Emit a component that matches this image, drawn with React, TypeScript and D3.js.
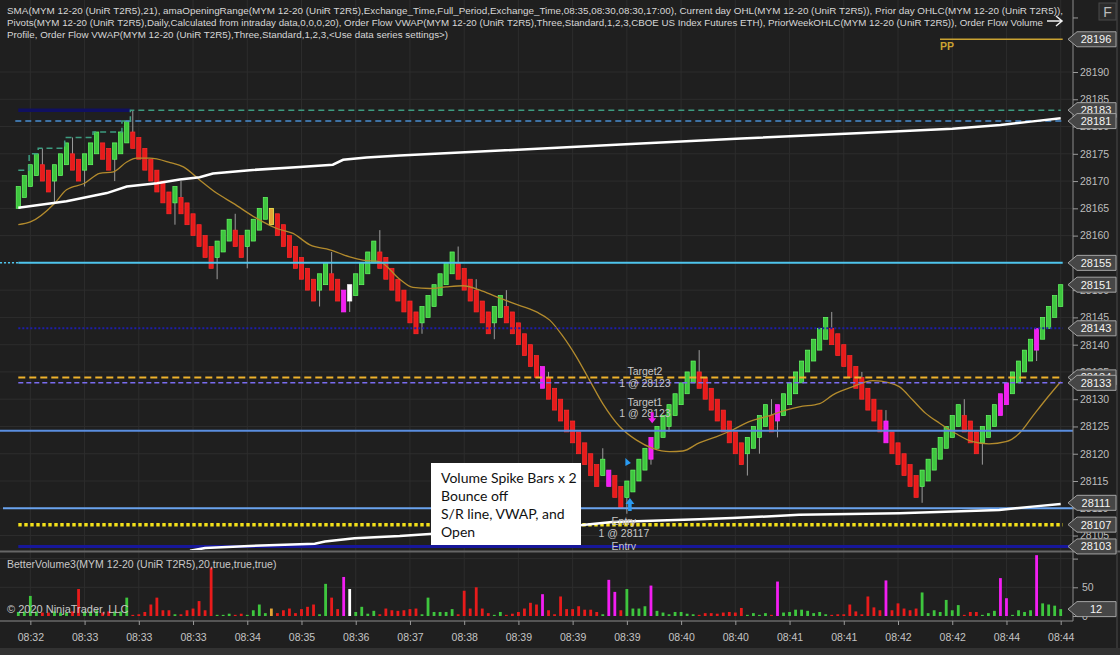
import * as d3 from "d3";
import { useEffect, useRef } from "react";

// UniRenko closes, one per bar (MYM 12-20, T2R5)
const closes = [
  28169, 28171, 28173, 28175, 28170, 28168, 28173, 28175, 28177, 28172,
  28170, 28175, 28177, 28179, 28174, 28172, 28177, 28179, 28181, 28176,
  28174, 28172, 28170, 28168, 28166, 28164, 28169, 28164, 28162, 28160,
  28158, 28156, 28154, 28159, 28161, 28163, 28158, 28156, 28161, 28163,
  28165, 28167, 28162, 28160, 28158, 28156, 28154, 28152, 28150, 28148,
  28153, 28155, 28150, 28148, 28146, 28151, 28153, 28155, 28157, 28159,
  28154, 28152, 28150, 28148, 28146, 28144, 28142, 28147, 28149, 28151,
  28153, 28155, 28157, 28152, 28150, 28148, 28146, 28144, 28142, 28147,
  28149, 28144, 28142, 28140, 28138, 28136, 28134, 28132, 28130, 28128,
  28126, 28124, 28122, 28120, 28118, 28116, 28114, 28119, 28114, 28112,
  28110, 28115, 28117, 28119, 28121, 28123, 28125, 28127, 28129, 28131,
  28133, 28135, 28137, 28132, 28130, 28128, 28126, 28124, 28122, 28120,
  28118, 28123, 28125, 28127, 28129, 28124, 28129, 28131, 28133, 28135,
  28137, 28139, 28141, 28143, 28145, 28140, 28138, 28136, 28134, 28132,
  28130, 28128, 28126, 28124, 28122, 28120, 28118, 28116, 28114, 28112,
  28117, 28119, 28121, 28123, 28125, 28127, 28129, 28124, 28122, 28120,
  28125, 28127, 28129, 28131, 28133, 28135, 28137, 28139, 28141, 28143,
  28145, 28147, 28149, 28151,
];

const volumes = [
  7, 8, 35, 8, 6, 6, 8, 6, 6, 8,
  47, 8, 8, 10, 6, 8, 8, 8, 32, 2,
  3, 7, 20, 32, 10, 10, 3, 3, 10, 13,
  26, 10, 84, 2, 2, 4, 2, 4, 2, 10,
  20, 5, 13, 5, 10, 13, 5, 12, 16, 20,
  3, 56, 32, 12, 68, 47, 7, 16, 4, 9,
  3, 13, 10, 9, 10, 12, 13, 3, 32, 7,
  7, 7, 12, 3, 44, 13, 50, 13, 5, 2,
  7, 2, 4, 7, 13, 23, 20, 38, 10, 3,
  34, 12, 12, 17, 11, 11, 7, 3, 63, 42,
  10, 47, 13, 13, 17, 53, 9, 6, 3, 7,
  7, 4, 3, 2, 5, 5, 4, 6, 7, 6,
  14, 2, 5, 2, 5, 2, 60, 6, 7, 11,
  11, 9, 5, 7, 3, 2, 3, 3, 20, 8,
  3, 34, 15, 10, 62, 10, 22, 13, 10, 13,
  41, 5, 10, 7, 28, 10, 19, 2, 7, 7,
  2, 5, 9, 66, 31, 2, 10, 7, 10, 106,
  22, 20, 18, 12,
];

const magentaBars = [54, 87, 98, 105, 126, 144, 163, 164, 169];
const whiteBars = [55];
const orangeBars = [42];
const magentaVolumeOnly = [99];

const wickIdx = [4, 6, 9, 11, 16, 19, 26, 27, 33, 36, 38, 50, 52, 55, 60, 67, 73, 76, 79, 81, 88, 97, 101, 105, 108, 113, 121, 123, 125, 126, 135, 140, 144, 150, 157, 160, 164, 169];
const wickEnd = [28176, 28166, 28178, 28169, 28170, 28183, 28162, 28170, 28152, 28164, 28154, 28147, 28157, 28146, 28161, 28142, 28158, 28152, 28141, 28150, 28135, 28121, 28109, 28118, 28124, 28139, 28116, 28120, 28130, 28123, 28146, 28135, 28128, 28111, 28130, 28118, 28129, 28137];

const smaIdx = [0, 2, 6, 8, 11, 13.5, 15.8, 18, 19.6, 21.8, 25.2, 27.4, 30.1, 32.9, 35.7, 39.5, 42.9, 45.6, 48.4, 51.7, 55, 57.2, 60, 63.3, 65.5, 68.3, 71, 73.8, 76.6, 79.3, 82.1, 86, 88.2, 90.4, 92.6, 94.8, 97, 99.8, 102.6, 105.3, 108.1, 110.3, 113, 115.8, 118.6, 121.3, 124.1, 127.4, 129.6, 133, 135.2, 138.5, 141.8, 144.6, 146.2, 148.4, 150.6, 152.9, 155.6, 158.4, 161.1, 163.9, 166.1, 168.3, 170.5, 173];
const smaVals = [28162.0, 28162.5, 28165.9, 28168.4, 28169.6, 28171.4, 28171.7, 28173.5, 28174.2, 28174.2, 28173.4, 28172.6, 28170.2, 28167.8, 28165.9, 28163.2, 28161.3, 28160.4, 28158.3, 28157.4, 28156.1, 28155.5, 28155.2, 28152.0, 28150.5, 28150.3, 28150.6, 28150.8, 28150.0, 28148.8, 28147.6, 28146.0, 28144.5, 28141.5, 28137.8, 28133.5, 28129.2, 28125.0, 28122.5, 28121.0, 28120.4, 28120.5, 28122.0, 28123.1, 28124.4, 28125.9, 28126.8, 28128.0, 28128.6, 28129.2, 28130.8, 28132.3, 28133.4, 28133.0, 28132.3, 28129.9, 28127.4, 28125.6, 28123.7, 28122.2, 28121.8, 28122.2, 28123.7, 28126.8, 28129.9, 28133.2];

const vwapIdx = [0, 8, 14.7, 18, 23, 26.8, 30.1, 32.3, 38.4, 46.7, 52.2, 53.9, 57.8, 63.3, 80, 100, 120, 140, 155, 163, 168, 173];
const vwapVals = [28165.1, 28166.3, 28167.8, 28169.0, 28169.6, 28170.3, 28170.7, 28171.4, 28172.0, 28172.6, 28173.0, 28173.9, 28174.3, 28174.7, 28175.6, 28176.7, 28177.8, 28178.8, 28179.6, 28180.3, 28180.9, 28181.5];

const vwapLowIdx = [28.5, 31, 38.4, 46.7, 49.2, 50.9, 55.8, 63.3, 68.3, 93.2, 98.6, 113, 118.5, 129.6, 146.2, 162.8, 168.3, 173];
const vwapLowVals = [28102.2, 28102.7, 28103.1, 28103.4, 28103.5, 28103.9, 28104.5, 28104.9, 28105.3, 28106.9, 28107.5, 28108.0, 28108.2, 28108.8, 28109.1, 28109.7, 28110.3, 28110.8];

const dayHighIdx = [0, 1.8, 3.3, 7.7, 12.4, 17.2, 18.6, 173];
const dayHighVals = [28172, 28175, 28176, 28178, 28179, 28181, 28183, 28183];

const priceTicks = [28105, 28110, 28115, 28120, 28125, 28130, 28135, 28140, 28145, 28150, 28155, 28160, 28165, 28170, 28175, 28180, 28185, 28190];
const priceLabels = [28196, 28183, 28181, 28155, 28151, 28143, 28134, 28133, 28111, 28107, 28103];

const timeTickIdx = [2, 11, 20, 29, 38, 47, 56, 65, 74, 83, 92, 101, 110, 119, 128, 137, 146, 155, 164, 173];
const timeLabels = ["08:32", "08:33", "08:33", "08:33", "08:34", "08:35", "08:36", "08:37", "08:38", "08:39", "08:39", "08:39", "08:40", "08:40", "08:41", "08:41", "08:42", "08:42", "08:44", "08:44"];

const headerLines = [
  "SMA(MYM 12-20 (UniR T2R5),21), amaOpeningRange(MYM 12-20 (UniR T2R5),Exchange_Time,Full_Period,Exchange_Time,08:35,08:30,08:30,17:00), Current day OHL(MYM 12-20 (UniR T2R5)), Prior day OHLC(MYM 12-20 (UniR T2R5)),",
  "Pivots(MYM 12-20 (UniR T2R5),Daily,Calculated from intraday data,0,0,0,20), Order Flow VWAP(MYM 12-20 (UniR T2R5),Three,Standard,1,2,3,CBOE US Index Futures ETH), PriorWeekOHLC(MYM 12-20 (UniR T2R5)), Order Flow Volume",
  "Profile, Order Flow VWAP(MYM 12-20 (UniR T2R5),Three,Standard,1,2,3,<Use data series settings>)",
];
const headerWidths = [1056, 1036, 441];
const noteLines = ["Volume Spike Bars x 2", "Bounce off", "S/R line, VWAP, and", "Open"];

const ppLevel = 28196;
const priorWeekHigh = 28183;
const priorDayHigh = 28181;
const cyanLevel = 28155;
const navyDotLevel = 28143;
const target2Level = 28134;
const purpleLevel = 28133;
const blueLevel = 28124.2;
const srLevel = 28110;
const openLevel = 28107;
const navyLowLevel = 28103;
const entryPrice = 28117;
const volumeLast = 12;

export default function App() {
  const svgRef = useRef<SVGSVGElement | null>(null);

  useEffect(() => {
    const svg = d3.select(svgRef.current);
    svg.selectAll("*").remove();

    const W = 1120;
    const H = 655;
    const axisX = 1073;
    const panelBottom = 550;
    const volAxisY = 621;
    const font = "'Liberation Sans', Arial, sans-serif";

    const x = d3.scaleLinear().domain([0, closes.length - 1]).range([18.3, 1060.7]);
    const y = d3.scaleLinear().domain([28190, 28115]).range([72, 481]);
    const yv = d3.scaleLinear().domain([0, 100]).range([616, 558.6]);

    svg.append("rect").attr("width", W).attr("height", H).attr("fill", "#1f1f1f");

    // grid
    const grid = svg.append("g").attr("stroke", "#2d2d2d").attr("stroke-width", 1);
    timeTickIdx.forEach((i) => {
      grid.append("line").attr("x1", x(i)).attr("x2", x(i)).attr("y1", 0).attr("y2", volAxisY);
    });
    priceTicks.forEach((p) => {
      grid.append("line").attr("x1", 0).attr("x2", axisX).attr("y1", y(p)).attr("y2", y(p));
    });
    [50, 100].forEach((v) => {
      grid.append("line").attr("x1", 0).attr("x2", axisX).attr("y1", yv(v)).attr("y2", yv(v));
    });

    svg.append("defs").append("clipPath").attr("id", "pclip")
      .append("rect").attr("x", 0).attr("y", 0).attr("width", axisX).attr("height", panelBottom);
    const plot = svg.append("g").attr("clip-path", "url(#pclip)");

    // candle colours
    const colorOf = (i: number) => {
      if (magentaBars.includes(i)) return "#f21ef2";
      if (whiteBars.includes(i)) return "#ffffff";
      if (orangeBars.includes(i)) return "#e3a335";
      const prev = i === 0 ? closes[0] - 2 : closes[i - 1];
      return closes[i] >= prev ? "#3ec63e" : "#e81b1b";
    };
    const dirOf = (i: number) => (i <= 0 ? 1 : Math.sign(closes[i] - closes[i - 1]));
    const openOf = (i: number) => {
      const prevClose = i === 0 ? closes[0] - 2 : closes[i - 1];
      return prevClose - 2 * dirOf(i - 1);
    };

    // wicks
    wickIdx.forEach((i, k) => {
      const o = openOf(i);
      const c = closes[i];
      const end = wickEnd[k];
      const from = end > Math.max(o, c) ? Math.max(o, c) : Math.min(o, c);
      plot.append("line")
        .attr("x1", x(i)).attr("x2", x(i))
        .attr("y1", y(from)).attr("y2", y(end))
        .attr("stroke", "#9c9c9c").attr("stroke-width", 1);
    });

    // candles
    closes.forEach((c, i) => {
      const o = openOf(i);
      const col = colorOf(i);
      const top = y(Math.max(o, c));
      const bot = y(Math.min(o, c));
      plot.append("rect")
        .attr("x", x(i) - 2.1).attr("width", 4.2)
        .attr("y", top).attr("height", bot - top)
        .attr("fill", col)
        .attr("stroke", d3.color(col)!.brighter(1.4).formatHex())
        .attr("stroke-width", 0.7);
    });

    // SMA 21
    const line = d3.line<[number, number]>().x((d) => x(d[0])).y((d) => y(d[1]));
    plot.append("path")
      .datum(smaIdx.map((v, k) => [v, smaVals[k]] as [number, number]))
      .attr("fill", "none").attr("stroke", "#b38b2d").attr("stroke-width", 1.3)
      .attr("d", line.curve(d3.curveMonotoneX));

    // level lines
    const hline = (p: number, x0: number, x1: number, color: string, w: number, dash?: string) => {
      const l = plot.append("line")
        .attr("x1", x0).attr("x2", x1).attr("y1", y(p)).attr("y2", y(p))
        .attr("stroke", color).attr("stroke-width", w);
      if (dash) l.attr("stroke-dasharray", dash);
      return l;
    };
    const xR = x(closes.length - 1) + 2;
    hline(ppLevel, 940, xR, "#c9a232", 1.5);
    hline(priorWeekHigh, x(0), x(18.6), "#101060", 3.5);
    hline(priorDayHigh, x(0) - 3, xR, "#4a8fd2", 1.5, "6,4");
    hline(cyanLevel, 0, x(0), "#4ec4ec", 1.5, "2,2");
    hline(cyanLevel, x(0), xR, "#4ec4ec", 2);
    hline(navyDotLevel, x(0), xR, "#1e1ea8", 2, "2,2");
    hline(target2Level, x(0), xR, "#eeb22c", 2, "7,4");
    hline(purpleLevel, x(0), xR, "#7a6cf0", 1.5, "5,3");
    hline(blueLevel, 0, axisX, "#5a8ee0", 2);
    hline(srLevel, 3, axisX, "#6aa3ee", 2);
    hline(openLevel, x(0), xR, "#f2e01a", 3.5, "3.4,2.6");
    hline(navyLowLevel, x(0), axisX, "#17179a", 3);

    // current day high steps
    plot.append("path")
      .datum(dayHighIdx.map((v, k) => [v, dayHighVals[k]] as [number, number]))
      .attr("fill", "none").attr("stroke", "#3d9c80").attr("stroke-width", 1.5)
      .attr("stroke-dasharray", "6,4")
      .attr("d", d3.line<[number, number]>().x((d) => x(d[0])).y((d) => y(d[1])).curve(d3.curveStepAfter));

    // VWAPs
    const straight = d3.line<[number, number]>().x((d) => x(d[0])).y((d) => y(d[1]));
    plot.append("path")
      .datum(vwapIdx.map((v, k) => [v, vwapVals[k]] as [number, number]))
      .attr("fill", "none").attr("stroke", "#ffffff").attr("stroke-width", 2.5)
      .attr("d", straight);
    plot.append("path")
      .datum(vwapLowIdx.map((v, k) => [v, vwapLowVals[k]] as [number, number]))
      .attr("fill", "none").attr("stroke", "#ffffff").attr("stroke-width", 2.5)
      .attr("d", straight);

    // PP text
    plot.append("text").attr("x", 940).attr("y", y(ppLevel) + 11)
      .attr("fill", "#c9a232").attr("font-family", font).attr("font-size", 10.5).attr("font-weight", "bold")
      .text("PP");

    // trade markers
    const txt = (s: string, cx: number, cy: number) =>
      plot.append("text").attr("x", cx).attr("y", cy).attr("text-anchor", "middle")
        .attr("fill", "#c6c6c6").attr("font-family", font).attr("font-size", 10.5).text(s);
    const tx = x(104);
    txt("Target2", tx, y(target2Level) - 2);
    txt("1 @ 28123", tx, y(purpleLevel) + 4);
    txt("Target1", tx, y(28129.5) + 4);
    txt("1 @ 28123", tx, y(28127.5) + 4);
    const ex = x(100.5);
    txt("Entry", ex, y(openLevel) + 0);
    txt(`1 @ ${entryPrice}`, ex, y(openLevel) + 12);
    txt("Entry", ex, y(navyLowLevel) + 4);

    // entry arrow
    const ax = x(101.5);
    const ay = y(28109.5);
    plot.append("path")
      .attr("d", `M${ax},${ay - 13} L${ax + 4.5},${ay - 7} L${ax + 1.8},${ay - 7} L${ax + 1.8},${ay} L${ax - 1.8},${ay} L${ax - 1.8},${ay - 7} L${ax - 4.5},${ay - 7} Z`)
      .attr("fill", "#2a9bf2");
    const bx = x(101);
    const by = y(28118.5);
    plot.append("path")
      .attr("d", `M${bx - 1.5},${by - 4} L${bx + 4},${by + 1} L${bx - 1.5},${by + 4} Z`)
      .attr("fill", "#2a9bf2");
    // exit arrow
    const mx = x(105.2);
    const my = y(28126.5);
    plot.append("path")
      .attr("d", `M${mx - 1.5},${my - 6} L${mx + 1.5},${my - 6} L${mx + 1.5},${my} L${mx + 4},${my} L${mx},${my + 5} L${mx - 4},${my} L${mx - 1.5},${my} Z`)
      .attr("fill", "#f21ef2");

    // note box
    const note = svg.append("g");
    note.append("rect").attr("x", 431).attr("y", 463).attr("width", 150).attr("height", 82).attr("fill", "#ffffff");
    noteLines.forEach((s, k) => {
      note.append("text").attr("x", 441).attr("y", 483 + k * 18)
        .attr("fill", "#111").attr("font-family", "Lato, 'Open Sans', sans-serif").attr("font-size", 14)
        .text(s);
    });

    // volume panel
    svg.append("line").attr("x1", 0).attr("x2", W).attr("y1", panelBottom + 1.5).attr("y2", panelBottom + 1.5)
      .attr("stroke", "#666666").attr("stroke-width", 2);
    const volColor = (i: number) => (magentaVolumeOnly.includes(i) ? "#f21ef2" : colorOf(i));
    volumes.forEach((v, i) => {
      svg.append("rect")
        .attr("x", x(i) - 1.4).attr("width", 2.8)
        .attr("y", yv(v)).attr("height", yv(0) - yv(v))
        .attr("fill", volColor(i));
    });
    svg.append("text").attr("x", 7).attr("y", 568).attr("fill", "#c8c8c8")
      .attr("font-family", font).attr("font-size", 10.5)
      .text("BetterVolume3(MYM 12-20 (UniR T2R5),20,true,true,true)");
    svg.append("text").attr("x", 7).attr("y", 613).attr("fill", "#c8c8c8")
      .attr("font-family", font).attr("font-size", 11)
      .text("© 2020 NinjaTrader, LLC");

    // header
    headerLines.forEach((s, k) => {
      svg.append("text").attr("x", 7).attr("y", 14 + k * 12).attr("fill", "#d6d6d6")
        .attr("font-family", font).attr("font-size", 9.6)
        .attr("textLength", headerWidths[k]).attr("lengthAdjust", "spacingAndGlyphs")
        .text(s);
    });
    svg.append("path").attr("d", "M1047,21 H1062 M1056,16 L1062,21 L1056,26")
      .attr("fill", "none").attr("stroke", "#f0f0f0").attr("stroke-width", 1.5);
    svg.append("rect").attr("x", 1099).attr("y", 3).attr("width", 17).attr("height", 17)
      .attr("fill", "#2b2b2b").attr("stroke", "#4a4a4a");
    svg.append("text").attr("x", 1107.5).attr("y", 17).attr("text-anchor", "middle")
      .attr("fill", "#bcbcbc").attr("font-family", font).attr("font-size", 14).text("F");

    // axes
    svg.append("line").attr("x1", axisX).attr("x2", axisX).attr("y1", 0).attr("y2", volAxisY)
      .attr("stroke", "#8c8c8c");
    svg.append("line").attr("x1", 0).attr("x2", axisX).attr("y1", volAxisY).attr("y2", volAxisY)
      .attr("stroke", "#8c8c8c");
    svg.append("line").attr("x1", 1117).attr("x2", 1117).attr("y1", 0).attr("y2", 648)
      .attr("stroke", "#4a4a4a");

    const yAxis = d3.axisRight(y).tickValues([...priceTicks, 28200]).tickSize(5)
      .tickFormat((d) => (+d === 28200 ? "" : String(d)));
    const ga = svg.append("g").attr("transform", `translate(${axisX},0)`).call(yAxis);
    ga.select(".domain").remove();
    ga.selectAll("line").attr("stroke", "#9a9a9a");
    ga.selectAll("text").attr("fill", "#bdbdbd").attr("font-family", font).attr("font-size", 10.5).attr("x", 7);

    const vAxis = d3.axisRight(yv).tickValues([0, 50, 100]).tickSize(5)
      .tickFormat((d) => (+d === 100 ? "" : String(d)));
    const gv = svg.append("g").attr("transform", `translate(${axisX},0)`).call(vAxis);
    gv.select(".domain").remove();
    gv.selectAll("line").attr("stroke", "#9a9a9a");
    gv.selectAll("text").attr("fill", "#bdbdbd").attr("font-family", font).attr("font-size", 10.5).attr("x", 9);

    const xAxis = d3.axisBottom(x).tickValues(timeTickIdx).tickSize(4)
      .tickFormat((_d, k) => timeLabels[k]);
    const gx = svg.append("g").attr("transform", `translate(0,${volAxisY})`).call(xAxis);
    gx.select(".domain").remove();
    gx.selectAll("line").attr("stroke", "#9a9a9a");
    gx.selectAll("text").attr("fill", "#c4c4c4").attr("font-family", font).attr("font-size", 10.5).attr("y", 13);

    svg.append("rect").attr("x", 0).attr("y", 648).attr("width", W).attr("height", 7).attr("fill", "#323232");

    // price label boxes
    const box = (cy: number, label: string) => {
      const g = svg.append("g");
      g.append("path")
        .attr("d", `M${axisX - 5},${cy} L${axisX + 4},${cy - 7.5} H1116 V${cy + 7.5} H${axisX + 4} Z`)
        .attr("fill", "#464646").attr("stroke", "#a3a3a3").attr("stroke-width", 1);
      g.append("text").attr("x", 1096).attr("y", cy + 4).attr("text-anchor", "middle")
        .attr("fill", "#f4f4f4").attr("font-family", font).attr("font-size", 11).text(label);
    };
    priceLabels.forEach((p) => box(y(p), String(p)));
    box(yv(volumeLast), String(volumeLast));
  }, []);

  return (
    <svg
      ref={svgRef}
      width={1120}
      height={655}
      style={{ position: "fixed", left: 0, top: 0 }}
    ></svg>
  );
}
